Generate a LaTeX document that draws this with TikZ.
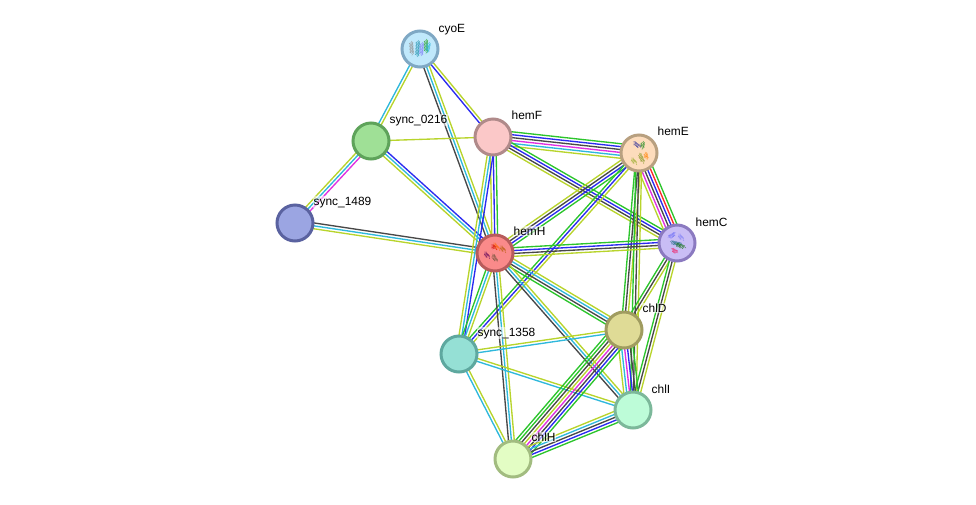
\documentclass[tikz,border=0pt]{standalone}
\usepackage{fontspec}
\setmainfont{Liberation Sans}
\usetikzlibrary{calc,backgrounds,decorations.pathmorphing}
\definecolor{gn}{HTML}{2CC52C}
\definecolor{rd}{HTML}{FA2A2A}
\definecolor{bl}{HTML}{2A2AF0}
\definecolor{mg}{HTML}{E030E0}
\definecolor{cy}{HTML}{2FB8DC}
\definecolor{yl}{HTML}{B8D42C}
\definecolor{bk}{HTML}{484848}
% Rim and fill of each protein
\definecolor{cyoEr}{HTML}{7FA8C4}\definecolor{cyoEf}{HTML}{C0E8FB}
\definecolor{saR}{HTML}{5EA35A}\definecolor{saF}{HTML}{9FE096}
\definecolor{hemFr}{HTML}{B08A8A}\definecolor{hemFf}{HTML}{FBC8C8}
\definecolor{hemEr}{HTML}{B8A080}\definecolor{hemEf}{HTML}{FDDCBC}
\definecolor{hemCr}{HTML}{8B7AC0}\definecolor{hemCf}{HTML}{C9BDF5}
\definecolor{hemHr}{HTML}{B85C5C}\definecolor{hemHf}{HTML}{FA8A8A}
\definecolor{sbR}{HTML}{5A62A0}\definecolor{sbF}{HTML}{9BA5E2}
\definecolor{scR}{HTML}{5EA89F}\definecolor{scF}{HTML}{95E0D5}
\definecolor{chlDr}{HTML}{A09C60}\definecolor{chlDf}{HTML}{DFDB96}
\definecolor{chlIr}{HTML}{7CB89A}\definecolor{chlIf}{HTML}{BDFCD8}
\definecolor{chlHr}{HTML}{A2BC80}\definecolor{chlHf}{HTML}{E3FDC4}
\tikzset{
  protein/.style 2 args={circle,minimum size=36pt,inner sep=0pt,line width=3pt,draw=#1,fill=#2},
  tag/.style={font=\fontsize{11.9}{14}\selectfont,text=black,inner sep=0.5pt,fill=white,fill opacity=0.55,text opacity=1,anchor=base west},
  evidence/.style={line width=1.35pt},
  helix/.style={line width=0.35pt,opacity=0.8,decorate,decoration={coil,aspect=0.7,amplitude=1.9pt,segment length=1.5pt}}
}
% Parallel evidence lines between two proteins, spread evenly about the centre line;
% the last colour listed lies to the left of the direction of travel
\newcommand{\bond}[3]{%
  \gdef\nlines{0}%
  \foreach \c in {#3}{\pgfmathtruncatemacro{\tmpn}{\nlines+1}\global\let\nlines\tmpn}%
  \foreach \c [count=\i] in {#3}{%
    \pgfmathsetmacro{\o}{(\i-(\nlines+1)/2)*2.9}%
    \draw[evidence,\c] ($(#1)!\o pt!90:(#2)$) -- ($(#2)!\o pt!-90:(#1)$);
  }%
}
\begin{document}
\begin{tikzpicture}[x=1pt,y=-1pt]
\useasboundingbox (0,0) rectangle (976,504);

% Proteins
\node[protein={cyoEr}{cyoEf}] (cyoE) at (420,49) {};
\node[protein={saR}{saF}] (s216) at (371,141) {};
\node[protein={hemFr}{hemFf}] (hemF) at (493,137) {};
\node[protein={hemEr}{hemEf}] (hemE) at (639,153) {};
\node[protein={hemCr}{hemCf}] (hemC) at (677,243) {};
\node[protein={hemHr}{hemHf}] (hemH) at (495,253) {};
\node[protein={sbR}{sbF}] (s1489) at (295,223) {};
\node[protein={scR}{scF}] (s1358) at (459,354) {};
\node[protein={chlDr}{chlDf}] (chlD) at (624,330) {};
\node[protein={chlIr}{chlIf}] (chlI) at (633,410) {};
\node[protein={chlHr}{chlHf}] (chlH) at (513,459) {};

% Evidence lines
\begin{scope}[on background layer]
\bond{cyoE}{s216}{cy,yl}
\bond{cyoE}{hemF}{bl,yl}
\bond{cyoE}{hemH}{bk,cy,yl}
\bond{s216}{hemF}{yl}
\bond{s216}{s1489}{yl,cy,mg}
\bond{s216}{hemH}{yl,cy,bl}
\bond{s1489}{hemH}{yl,cy,bk}
\bond{hemF}{hemE}{yl,cy,mg,bk,bl,gn}
\bond{hemF}{hemC}{yl,bk,bl,gn}
\bond{hemF}{hemH}{yl,bl,gn}
\bond{hemF}{s1358}{yl,cy,bl}
\bond{hemE}{hemH}{yl,bk,bl,gn}
\bond{hemE}{s1358}{gn,bl,yl}
\bond{hemE}{hemC}{yl,mg,bk,bl,rd,gn}
\bond{hemE}{chlD}{gn,bk,yl}
\bond{hemE}{chlI}{gn,bk,yl}
\bond{hemC}{hemH}{gn,bl,bk,yl}
\bond{hemC}{chlD}{gn,bk,yl}
\bond{hemC}{chlI}{gn,bk,yl}
\bond{hemH}{s1358}{gn,cy,yl}
\bond{hemH}{chlD}{gn,bk,cy,yl}
\bond{hemH}{chlI}{bk,cy,yl}
\bond{hemH}{chlH}{bk,cy,yl}
\bond{s1358}{chlD}{cy,yl}
\bond{s1358}{chlI}{cy,yl}
\bond{s1358}{chlH}{cy,yl}
\bond{chlD}{chlI}{yl,cy,mg,bl,bk,gn}
\bond{chlD}{chlH}{gn,gn,bk,yl,mg,bk,bl,gn}
\bond{chlI}{chlH}{yl,cy,bk,bl,gn}
\end{scope}

% Ribbon sketches inside the proteins with known structures
\begin{scope}[shift={(cyoE.center)}]
  \draw[helix,bk!60] (-9,-8) -- (-8,7);
  \draw[helix,cy!80!black] (-2,-9) -- (-3,8);
  \draw[helix,bl!60] (2,-7) -- (1,7);
  \draw[helix,gn!80!black] (6,-10) -- (6,5);
  \draw[helix,cy] (9,-7) -- (7,4);
\end{scope}
\begin{scope}[shift={(hemE.center)}]
  \draw[helix,bl!50!bk] (-6,-11) -- (2,-5);
  \draw[helix,gn!70!black] (4,-12) -- (3,-3);
  \draw[helix,yl!80!black] (-8,5) -- (-2,12);
  \draw[helix,yl!70!black] (0,0) -- (5,11);
  \draw[helix,orange] (6,-1) -- (8,7);
\end{scope}
\begin{scope}[shift={(hemC.center)}]
  \draw[helix,bl!70] (-9,-5) -- (-1,-10);
  \draw[helix,bl!60] (1,-9) -- (7,-2);
  \draw[helix,cy!60!black] (-7,-1) -- (6,2);
  \draw[helix,gn!60!black] (-2,1) -- (9,5);
  \draw[helix,red!60!mg] (-6,6) -- (1,10);
\end{scope}
\begin{scope}[shift={(hemH.center)}]
  \draw[helix,orange!80!red] (-2,-10) -- (5,-2);
  \draw[helix,red!80!black] (-4,-8) -- (2,-3);
  \draw[helix,orange!70!black] (5,-7) -- (11,0);
  \draw[helix,violet!70!black] (-11,-1) -- (-5,6);
  \draw[helix,bk!80!orange] (-3,1) -- (2,9);
\end{scope}

% Protein names
\node[tag] (lcyoE) at (438,32) {cyoE};
\node[tag] (ls216) at (389,123) {sync\_0216};
\node[tag] (lhemF) at (511,119) {hemF};
\node[tag] (lhemE) at (657,135) {hemE};
\node[tag] (lhemC) at (695,226) {hemC};
\node[tag] (lhemH) at (513,235) {hemH};
\node[tag] (ls1489) at (313,205) {sync\_1489};
\node[tag] (ls1358) at (477,336) {sync\_1358};
\node[tag] (lchlD) at (642,312) {chlD};
\node[tag] (lchlI) at (651,393) {chlI};
\node[tag] (lchlH) at (531,441) {chlH};
\end{tikzpicture}
\end{document}
